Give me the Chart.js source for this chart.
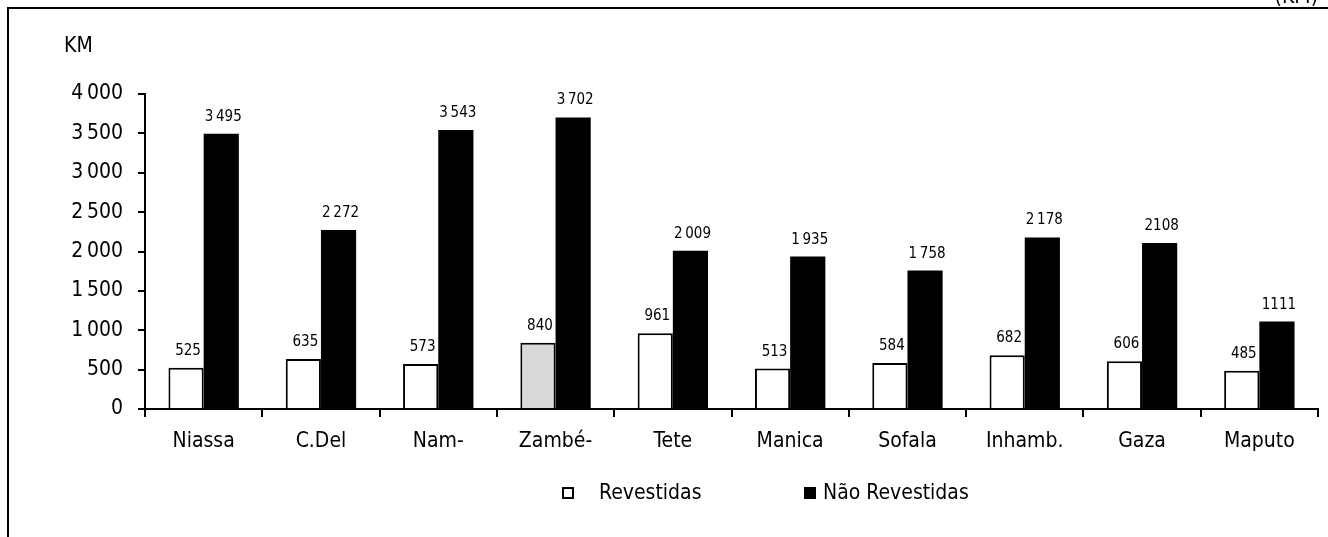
<!DOCTYPE html>
<html>
<head>
<meta charset="utf-8">
<script src="https://cdn.jsdelivr.net/npm/chart.js@4"></script>
<style>
  html, body { margin: 0; padding: 0; background: #fff; }
  #wrap { width: 1328px; height: 537px; }
</style>
</head>
<body>
<div id="wrap"><canvas id="roads-canvas"></canvas></div>
<script>
// provinces
const categories = ['Niassa', 'C.Del', 'Nam-', 'Zambé-', 'Tete', 'Manica', 'Sofala', 'Inhamb.', 'Gaza', 'Maputo'];

// km of road
const revestidas = [525, 635, 573, 840, 961, 513, 584, 682, 606, 485];
const naoRevestidas = [3495, 2272, 3543, 3702, 2009, 1935, 1758, 2178, 2108, 1111];

// labels as printed on the chart
const revestidasLabels = ['525', '635', '573', '840', '961', '513', '584', '682', '606', '485'];
const naoRevestidasLabels = ['3 495', '2 272', '3 543', '3 702', '2 009', '1 935', '1 758', '2 178', '2108', '1111'];

const yTicks = [0, 500, 1000, 1500, 2000, 2500, 3000, 3500, 4000];

const FONT = "'DejaVu Sans Condensed', 'DejaVu Sans', sans-serif";
Chart.defaults.font.family = FONT;
Chart.defaults.color = '#000';

function spaced(v) {
    return String(v).replace(/\B(?=(\d{3})+(?!\d))/g, '\u2009');
}

const valueLabels = {
    id: 'valueLabels',
    afterDatasetsDraw(chart) {
        const ctx = chart.ctx;
        const sets = [revestidasLabels, naoRevestidasLabels];
        ctx.save();
        ctx.font = '15px ' + FONT;
        ctx.fillStyle = '#000';
        ctx.textAlign = 'center';
        ctx.textBaseline = 'alphabetic';
        sets.forEach((labels, d) => {
            chart.getDatasetMeta(d).data.forEach((bar, i) => {
                ctx.fillText(labels[i].replace(' ', '\u2009'), bar.x + 2, bar.y - 13);
            });
        });
        ctx.restore();
    }
};

// frame, unit text and the legend below the axis
const frame = {
    id: 'frame',
    afterDraw(chart) {
        const ctx = chart.ctx;
        ctx.save();
        ctx.strokeStyle = '#000';
        ctx.lineWidth = 2;
        ctx.beginPath();
        ctx.moveTo(8, chart.height);
        ctx.lineTo(8, 8);
        ctx.lineTo(chart.width, 8);
        ctx.stroke();

        ctx.fillStyle = '#000';
        ctx.font = '21px ' + FONT;
        ctx.textAlign = 'left';
        ctx.textBaseline = 'alphabetic';
        ctx.fillText('KM', 64, 52);
        ctx.textAlign = 'right';
        ctx.fillText('(KM)', 1318, 3);

        // legend
        const items = [
            { box: 563, text: 599, fill: '#fff', size: 10 },
            { box: 804, text: 823, fill: '#000', size: 12 }
        ];
        ctx.textAlign = 'left';
        ctx.textBaseline = 'middle';
        items.forEach((it, i) => {
            const s = it.size;
            ctx.fillStyle = it.fill;
            ctx.fillRect(it.box, 493 - s / 2, s, s);
            if (i == 0) {
                ctx.lineWidth = 2;
                ctx.strokeRect(it.box, 493 - s / 2, s, s);
            }
            ctx.fillStyle = '#000';
            ctx.fillText(chart.data.datasets[i].label, it.text, 494);
        });
        ctx.restore();
    }
};

const ctx = document.getElementById('roads-canvas');

new Chart(ctx, {
    type: 'bar',
    data: {
        labels: categories,
        datasets: [
            {
                label: 'Revestidas',
                data: revestidas,
                backgroundColor: revestidas.map((v, i) => i == 3 ? '#d9d9d9' : '#ffffff'),
                borderColor: '#000',
                borderWidth: 2,
                categoryPercentage: 0.6,
                barPercentage: 1
            },
            {
                label: 'Não Revestidas',
                data: naoRevestidas,
                backgroundColor: '#000',
                borderWidth: 0,
                categoryPercentage: 0.6,
                barPercentage: 1
            }
        ]
    },
    options: {
        responsive: true,
        maintainAspectRatio: false,
        animation: false,
        layout: {
            padding: { top: 94, right: 10, bottom: 64, left: 0 }
        },
        plugins: {
            legend: { display: false },
            tooltip: { enabled: false }
        },
        scales: {
            x: {
                grid: {
                    offset: true,
                    drawOnChartArea: false,
                    drawTicks: true,
                    tickLength: 8,
                    color: '#000',
                    lineWidth: 2
                },
                border: { color: '#000', width: 2 },
                ticks: {
                    font: { size: 21 },
                    padding: 12,
                    maxRotation: 0,
                    autoSkip: false
                },
                afterFit(scale) {
                    scale.height = 64;
                }
            },
            y: {
                min: 0,
                max: 4000,
                grid: {
                    drawOnChartArea: false,
                    drawTicks: true,
                    tickLength: 7,
                    color: '#000',
                    lineWidth: 2
                },
                border: { color: '#000', width: 2 },
                afterBuildTicks(scale) {
                    scale.ticks = yTicks.map(v => ({ value: v }));
                },
                ticks: {
                    font: { size: 21 },
                    padding: 15,
                    callback: v => spaced(v)
                },
                afterFit(scale) {
                    scale.width = 145;
                }
            }
        }
    },
    plugins: [valueLabels, frame]
});
</script>
</body>
</html>
